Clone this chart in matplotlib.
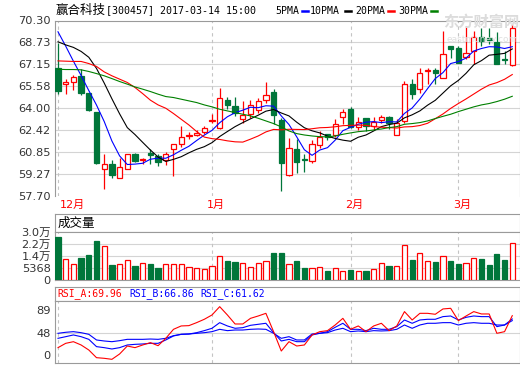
import matplotlib
matplotlib.use("Agg")
import matplotlib.pyplot as plt
from matplotlib.lines import Line2D
import numpy as np

plt.rcParams['font.family'] = ['DejaVu Sans', 'Noto Sans CJK SC']

# Daily candles, 2016-12 .. 2017-03-14
opens = [66.92, 65.73, 65.89, 66.28, 65.13, 63.74, 59.61, 60.02, 58.99, 59.66,
         60.74, 60.26, 60.76, 60.57, 60.26, 61.05, 61.46, 62.01, 62.08, 62.32,
         63.06, 62.61, 64.62, 64.17, 63.21, 63.57, 63.86, 64.58, 65.20, 63.16,
         59.21, 61.10, 60.38, 60.21, 61.36, 62.13, 62.08, 63.38, 63.93, 62.66,
         63.33, 62.73, 63.14, 63.38, 62.08, 63.09, 65.77, 65.41, 66.68, 66.73,
         66.16, 68.48, 68.29, 67.69, 68.12, 69.08, 69.01, 68.79, 67.57, 67.09]
closes = [65.25, 65.89, 66.21, 65.13, 63.86, 60.05, 60.02, 59.21, 59.78, 60.74,
          60.21, 60.33, 60.64, 60.17, 60.69, 61.46, 61.94, 62.08, 62.25, 62.61,
          63.16, 64.72, 64.22, 63.69, 63.52, 64.22, 64.53, 64.96, 63.50, 60.05,
          61.12, 60.14, 60.31, 61.46, 61.96, 61.96, 62.85, 63.74, 62.66, 63.02,
          62.73, 63.04, 63.38, 62.97, 62.97, 65.77, 65.01, 66.56, 66.76, 66.54,
          67.93, 68.24, 67.28, 68.00, 69.08, 68.84, 68.91, 67.16, 67.45, 69.75]
highs = [68.72, 66.09, 66.40, 66.80, 65.13, 63.74, 60.74, 60.26, 60.45, 60.74,
         60.81, 60.45, 61.05, 60.69, 60.86, 61.46, 62.73, 62.32, 62.42, 62.73,
         63.57, 65.44, 64.82, 64.82, 64.53, 64.58, 64.77, 65.92, 65.37, 63.33,
         61.84, 61.77, 60.69, 61.70, 62.37, 62.13, 63.21, 63.93, 64.10, 63.38,
         63.33, 63.38, 63.52, 63.45, 63.21, 65.97, 66.09, 66.88, 66.88, 66.92,
         69.56, 68.48, 68.48, 69.92, 69.56, 69.73, 69.73, 69.44, 68.12, 70.04]
lows = [65.05, 65.05, 65.29, 64.96, 63.80, 59.97, 58.18, 58.97, 58.99, 59.66,
        60.14, 59.97, 59.97, 59.85, 59.93, 59.13, 61.22, 61.77, 61.99, 62.13,
        62.97, 62.49, 63.93, 63.45, 62.97, 63.33, 63.69, 64.41, 62.85, 58.06,
        59.15, 59.37, 59.45, 60.09, 61.12, 61.70, 61.94, 62.90, 62.56, 62.42,
        62.37, 62.42, 62.97, 62.49, 62.08, 62.97, 64.65, 65.13, 65.73, 65.73,
        66.16, 67.64, 67.24, 67.52, 67.21, 68.48, 68.60, 67.16, 67.21, 67.04]

ma5 = [69.49, 68.46, 67.38, 66.35, 65.27, 64.23, 63.05, 61.65, 60.58, 59.96,
       59.99, 60.05, 60.34, 60.42, 60.41, 60.66, 60.98, 61.27, 61.68, 62.07,
       62.41, 62.96, 63.39, 63.68, 63.86, 64.07, 64.04, 64.18, 64.15, 63.45,
       62.83, 61.95, 61.02, 60.62, 61.00, 61.17, 61.71, 62.39, 62.63, 62.85,
       63.00, 63.04, 62.97, 63.03, 63.02, 63.63, 64.02, 64.66, 65.41, 66.13,
       66.56, 67.21, 67.35, 67.60, 68.11, 68.29, 68.42, 68.40, 68.29, 68.42]
ma10 = [68.77, 68.55, 68.37, 68.08, 67.66, 66.86, 65.81, 64.68, 63.60, 62.61,
        62.11, 61.55, 61.00, 60.50, 60.18, 60.33, 60.52, 60.80, 61.05, 61.24,
        61.53, 61.97, 62.33, 62.68, 62.97, 63.24, 63.50, 63.79, 63.91, 63.66,
        63.45, 63.00, 62.60, 62.38, 62.23, 62.00, 61.83, 61.71, 61.63, 61.92,
        62.08, 62.37, 62.68, 62.83, 62.93, 63.31, 63.53, 63.81, 64.22, 64.57,
        65.09, 65.61, 66.00, 66.51, 67.12, 67.42, 67.81, 67.87, 67.94, 68.26]
ma20 = [67.40, 67.38, 67.36, 67.36, 67.21, 67.00, 66.61, 66.33, 66.09, 65.85,
        65.49, 65.05, 64.58, 64.24, 64.00, 63.62, 63.21, 62.80, 62.33, 61.93,
        61.82, 61.76, 61.66, 61.59, 61.57, 61.78, 62.01, 62.30, 62.48, 62.45,
        62.49, 62.48, 62.47, 62.53, 62.60, 62.62, 62.67, 62.75, 62.77, 62.79,
        62.77, 62.68, 62.64, 62.61, 62.58, 62.66, 62.68, 62.76, 62.92, 63.25,
        63.59, 63.99, 64.34, 64.67, 65.02, 65.37, 65.67, 65.84, 66.08, 66.42]
ma30 = [66.80, 66.78, 66.78, 66.76, 66.64, 66.49, 66.33, 66.13, 65.92, 65.73,
        65.53, 65.37, 65.20, 65.01, 64.84, 64.77, 64.65, 64.53, 64.41, 64.24,
        64.10, 63.93, 63.81, 63.69, 63.57, 63.45, 63.28, 63.09, 62.90, 62.66,
        62.37, 62.18, 62.08, 62.01, 61.96, 61.94, 62.01, 62.13, 62.23, 62.32,
        62.37, 62.44, 62.51, 62.61, 62.68, 62.85, 62.90, 62.97, 63.09, 63.26,
        63.42, 63.57, 63.76, 63.93, 64.10, 64.24, 64.34, 64.48, 64.65, 64.86]

# volume in 万 shares
volume = [2.71, 1.29, 1.00, 1.40, 1.58, 2.46, 2.12, 0.94, 1.00, 1.25,
          0.88, 1.06, 1.00, 0.75, 1.00, 1.00, 1.00, 0.81, 0.73, 0.69,
          0.85, 1.54, 1.19, 1.13, 1.06, 0.81, 1.06, 1.17, 1.71, 1.71,
          1.00, 1.19, 0.75, 0.73, 0.81, 0.56, 0.73, 0.56, 0.63, 0.56,
          0.56, 0.67, 1.06, 0.88, 0.88, 2.19, 1.25, 1.69, 1.19, 1.13,
          1.50, 1.19, 1.00, 1.06, 1.38, 1.31, 0.94, 1.63, 1.25, 2.31]

rsi_a = [25.3, 32.1, 34.7, 29.5, 21.6, 9.5, 8.5, 6.9, 15.3, 27.9,
         25.3, 29.5, 33.2, 28.4, 40.0, 54.2, 59.5, 60.0, 64.7, 70.0,
         76.8, 89.9, 76.8, 62.6, 62.6, 71.5, 75.2, 79.4, 50.5, 20.0,
         34.7, 27.9, 29.5, 45.3, 50.5, 52.1, 61.0, 71.5, 54.2, 59.5,
         50.5, 59.5, 63.7, 52.1, 59.5, 82.1, 68.9, 79.4, 79.4, 77.9,
         86.3, 87.3, 67.9, 75.2, 82.1, 78.4, 78.4, 47.9, 50.5, 75.7]
rsi_b = [40.0, 42.6, 45.3, 42.6, 38.4, 26.9, 25.3, 23.2, 25.3, 29.5,
         30.5, 31.1, 32.1, 32.1, 37.4, 43.7, 46.3, 46.8, 48.9, 52.1,
         55.8, 64.7, 59.5, 55.8, 56.8, 60.5, 62.1, 63.7, 48.9, 35.8,
         38.4, 34.7, 34.7, 45.3, 47.9, 50.5, 57.4, 63.7, 54.2, 54.2,
         52.1, 55.8, 54.2, 54.2, 58.4, 68.9, 63.7, 68.9, 70.0, 70.0,
         74.2, 75.2, 68.9, 73.1, 75.2, 74.2, 74.2, 58.4, 61.0, 70.5]
rsi_c = [47.9, 49.5, 50.5, 48.9, 46.3, 37.4, 35.8, 34.7, 36.3, 38.4,
         38.4, 38.4, 38.9, 38.4, 40.0, 44.2, 46.3, 46.8, 47.9, 48.9,
         50.5, 54.2, 52.1, 53.1, 53.1, 54.2, 54.7, 54.2, 47.9, 40.0,
         42.6, 37.4, 37.4, 46.8, 47.9, 48.9, 53.1, 55.8, 50.5, 51.6,
         50.5, 52.1, 51.6, 52.1, 54.2, 61.0, 55.8, 61.0, 63.7, 63.7,
         64.7, 64.7, 61.0, 63.7, 64.7, 63.7, 63.7, 61.0, 61.0, 67.9]

month_idx = [0, 20, 38, 52]
month_names = ['12月', '1月', '2月', '3月']
price_ticks = [57.70, 59.275, 60.85, 62.425, 64.00, 65.575, 67.15, 68.725, 70.30]
price_labels = ['57.70', '59.27', '60.85', '62.42', '64.00', '65.58', '67.15', '68.73', '70.30']
vol_labels = ['0', '5368', '1.4万', '2.2万', '3.0万']
rsi_ticks = [13, 48, 84]
rsi_labels = ['0', '48', '89']

W, H = 520, 365
UP = '#ff0000'
DOWN = '#00763a'
FRAME = '#9a9a9a'
GRID = '#d4d4d4'
TXT = '#333333'

fig = plt.figure(figsize=(W / 100, H / 100), dpi=100)
fig.patch.set_facecolor('white')


def fx(px):
    return px / W


def fy(py):
    return 1 - py / H


def panel(x0, y0, x1, y1):
    a = fig.add_axes([fx(x0), fy(y1), fx(x1) - fx(x0), fy(y0) - fy(y1)])
    for s in a.spines.values():
        s.set_color(FRAME)
        s.set_linewidth(0.8)
    a.set_xlim(-0.39, 59.94)
    a.tick_params(length=0, pad=3, labelsize=8.2, labelcolor=TXT)
    a.set_xticks([])
    return a


x = np.arange(len(closes))
up = [c >= o for o, c in zip(opens, closes)]

# ---- price panel
ax = panel(55, 20.5, 519.5, 196)
ax.set_ylim(57.70, 70.30)
ax.set_yticks(price_ticks)
ax.set_yticklabels(price_labels)
for t in price_ticks[1:-1]:
    ax.axhline(t, color=GRID, lw=0.8, zorder=0)
for m in month_idx:
    ax.axvline(m, color='#c4c4c4', lw=0.8, ls=(0, (3, 3)), zorder=0)

for i in x:
    col = UP if up[i] else DOWN
    ax.vlines(i, lows[i], highs[i], color=col, lw=0.9, zorder=2)
    body = max(abs(closes[i] - opens[i]), 0.03)
    ax.bar(i, body, bottom=min(opens[i], closes[i]), width=0.68,
           facecolor='white' if up[i] else DOWN, edgecolor=col, lw=0.9, zorder=3)

ax.plot(x, ma5, color='#0000ff', lw=0.8, zorder=4)
ax.plot(x, ma10, color='black', lw=0.8, zorder=4)
ax.plot(x, ma20, color='#ff0000', lw=0.8, zorder=4)
ax.plot(x, ma30, color='#008000', lw=0.8, zorder=4)
ax.spines['bottom'].set_visible(False)

# watermark
fig.text(fx(481), fy(22), '东方财富网', color='#dcdcdc', fontsize=11, fontweight='bold',
         ha='center', va='center', family=['Noto Sans CJK SC'], zorder=0)
fig.text(fx(482), fy(39), 'eastmoney.com', color='#e0e0e0', fontsize=6.5,
         ha='center', va='center', zorder=0)

# title and legend
fig.text(fx(56), fy(10), '赢合科技', family=['Noto Sans CJK SC'], fontsize=9,
         va='center', color='black')
fig.text(fx(106), fy(10), '[300457] 2017-03-14 15:00', family=['DejaVu Sans Mono'],
         fontsize=7.2, va='center', color='black')
legend = [('5PMA', 275, 302, '#0000ff'), ('10PMA', 310, 345, 'black'),
          ('20PMA', 355, 388, '#ff0000'), ('30PMA', 398, 431, '#008000')]
for name, tx, lx, c in legend:
    fig.text(fx(tx), fy(11), name, family=['DejaVu Sans Mono'], fontsize=7.1,
             va='center', color='black')
    fig.add_artist(Line2D([fx(lx), fx(lx + 6)], [fy(11), fy(11)], color=c, lw=1.8,
                          transform=fig.transFigure))

for m, name in zip(month_idx, month_names):
    px = 58 + m * 7.7
    if m == 0:
        fig.text(fx(60), fy(205), name, color=UP, fontsize=8, va='center', ha='left')
    else:
        fig.text(fx(px + 4), fy(205), name, color=UP, fontsize=8, va='center', ha='center')

# ---- volume panel
vt = panel(55, 214, 519.5, 232.3)
vt.set_yticks([])
vt.text(0.005, 0.48, '成交量', transform=vt.transAxes, fontsize=9, va='center',
        family=['Noto Sans CJK SC'], color='black')

av = panel(55, 232.3, 519.5, 280)
av.set_ylim(0, 3.0)
vticks = np.linspace(0, 3.0, 5)
av.set_yticks(vticks)
av.set_yticklabels(vol_labels)
for t in vticks[1:-1]:
    av.axhline(t, color=GRID, lw=0.8, zorder=0)
for m in month_idx:
    av.axvline(m, color='#c4c4c4', lw=0.8, ls=(0, (3, 3)), zorder=0)
av.bar(x, volume, width=0.68, color=['white' if u else DOWN for u in up],
       edgecolor=[UP if u else DOWN for u in up], lw=0.9, zorder=3)

# ---- RSI panel
rt = panel(55, 287, 519.5, 300.7)
rt.set_yticks([])
rsi_title = [('RSI_A:69.96', 57, UP), ('RSI_B:66.86', 129, '#0000ff'),
             ('RSI_C:61.62', 200, '#0000ff')]
for s, tx, c in rsi_title:
    fig.text(fx(tx), fy(294), s, family=['DejaVu Sans Mono'], fontsize=7.0,
             va='center', color=c)

ar = panel(55, 300.7, 519.5, 363)
ar.set_ylim(1.1, 99.3)
ar.set_yticks(rsi_ticks)
ar.set_yticklabels(rsi_labels)
ar.axhline(48, color=GRID, lw=0.8, zorder=0)
for m in month_idx:
    ar.axvline(m, color='#c4c4c4', lw=0.8, ls=(0, (3, 3)), zorder=0)
ar.plot(x, rsi_c, color='#0000ff', lw=0.8, zorder=3)
ar.plot(x, rsi_b, color='#0000ff', lw=0.8, zorder=3)
ar.plot(x, rsi_a, color=UP, lw=0.8, zorder=4)

fig.savefig('out.png', dpi=100)
